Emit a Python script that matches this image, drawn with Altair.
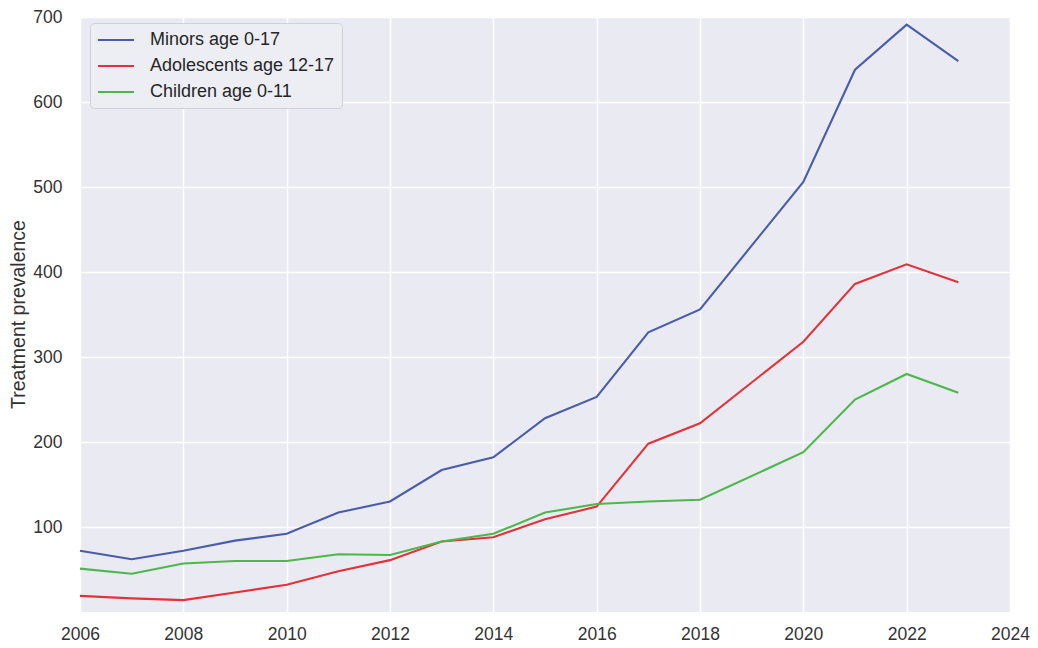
import altair as alt
import pandas as pd

years = [2006, 2007, 2008, 2009, 2010, 2011, 2012, 2013, 2014, 2015, 2016, 2017, 2018, 2020, 2021, 2022, 2023]
minors = [72, 62, 72, 84, 92, 117, 130, 167, 182, 228, 253, 329, 356, 506, 638, 691, 648]
adolescents = [19, 16, 14, 23, 32, 48, 61, 83, 88, 109, 124, 198, 222, 318, 386, 409, 388]
children = [51, 45, 57, 60, 60, 68, 67, 83, 92, 117, 127, 130, 132, 188, 250, 280, 258]

series_names = ["Minors age 0-17", "Adolescents age 12-17", "Children age 0-11"]
colors = ["#4a5da8", "#e2323a", "#4cb84c"]
x_ticks = [2006, 2008, 2010, 2012, 2014, 2016, 2018, 2020, 2022, 2024]
y_ticks = [100, 200, 300, 400, 500, 600, 700]

rows = []
for name, vals in zip(series_names, [minors, adolescents, children]):
    for yr, v in zip(years, vals):
        rows.append({"year": yr, "value": v, "series": name})
df = pd.DataFrame(rows)

FONT = "Liberation Sans"

chart = alt.Chart(df).mark_line(strokeWidth=2.1).encode(
    x=alt.X("year:Q",
            scale=alt.Scale(domain=[2006, 2024], nice=False, zero=False),
            axis=alt.Axis(values=x_ticks, format="d", title=None, labelPadding=13,
                          labelFlush=False)),
    y=alt.Y("value:Q",
            scale=alt.Scale(domain=[0, 700], nice=False),
            axis=alt.Axis(values=y_ticks, title="Treatment prevalence",
                          labelPadding=18, labelFlush=False,
                          titleAngle=270, titleX=-62, titleY=297,
                          titleAlign="center", titleBaseline="middle")),
    color=alt.Color("series:N",
                    scale=alt.Scale(domain=series_names, range=colors),
                    legend=alt.Legend(title=None, orient="none", legendX=10, legendY=6,
                                      symbolType="M-2,0H2", symbolSize=324,
                                      symbolStrokeWidth=2, symbolOffset=9,
                                      padding=7, rowPadding=7, labelOffset=24,
                                      labelFont=FONT, labelFontSize=18, labelLimit=400,
                                      labelColor="#262626",
                                      fillColor="#eceef4", strokeColor="#d0d0d8",
                                      cornerRadius=4)),
    order=alt.Order("year:Q"),
).properties(
    width=930, height=595,
    autosize=alt.AutoSizeParams(type="none"),
    padding={"left": 72, "top": 9, "right": 20, "bottom": 32},
    background="white",
).configure_view(
    fill="#eaeaf2", strokeWidth=0
).configure_axis(
    grid=True, gridColor="white", gridWidth=1.5, domain=False, ticks=False,
    labelFont=FONT, labelFontSize=17.5, labelColor="#333333",
    titleFont=FONT, titleFontSize=19.5, titleFontWeight="normal", titleColor="#333333",
)

chart.save("out.html", embed_options={"renderer": "svg", "actions": False})
